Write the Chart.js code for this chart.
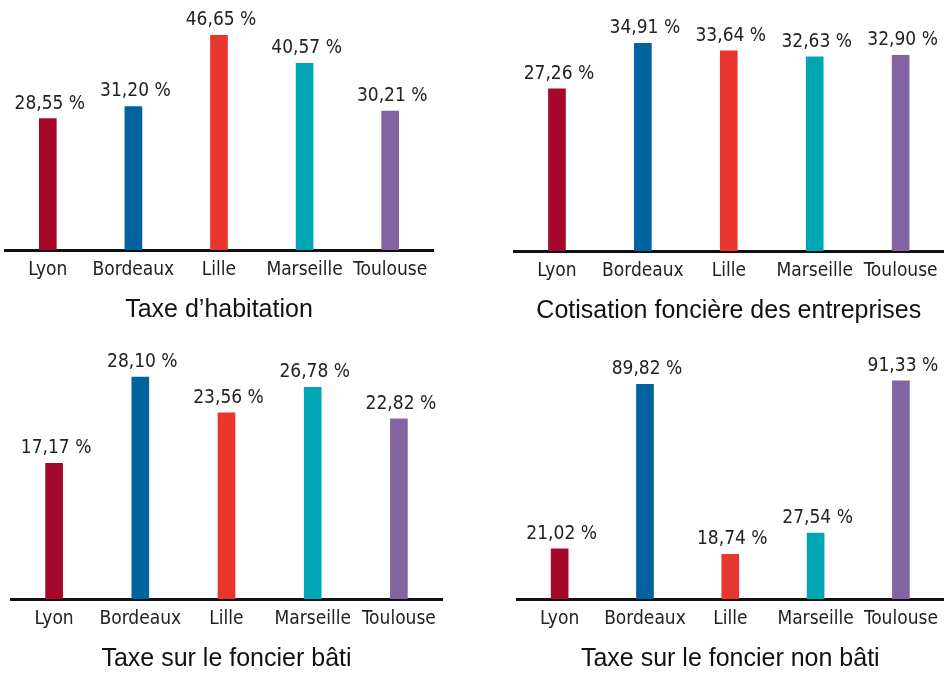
<!DOCTYPE html>
<html>
<head>
<meta charset="utf-8">
<script src="https://cdn.jsdelivr.net/npm/chart.js@4"></script>
<style>
  body { margin: 0; background: #fff; }
  #wrap { position: relative; width: 949px; height: 673px; overflow: hidden; }
  canvas { position: absolute; }
</style>
</head>
<body>
<div id="wrap">
  <canvas id="c1" width="474" height="335" style="left:0;top:0"></canvas>
  <canvas id="c2" width="475" height="335" style="left:474px;top:0"></canvas>
  <canvas id="c3" width="474" height="335" style="left:0;top:338px"></canvas>
  <canvas id="c4" width="475" height="335" style="left:474px;top:338px"></canvas>
</div>
<script>
const cities = ["Lyon", "Bordeaux", "Lille", "Marseille", "Toulouse"];
const cityColors = ["#a5082a", "#00629e", "#e6362e", "#00a6b4", "#8164a1"];

const habitation = [28.55, 31.20, 46.65, 40.57, 30.21];
const cfe = [27.26, 34.91, 33.64, 32.63, 32.90];
const foncierBati = [17.17, 28.10, 23.56, 26.78, 22.82];
const foncierNonBati = [21.02, 89.82, 18.74, 27.54, 91.33];

const titles = [
  "Taxe d’habitation",
  "Cotisation foncière des entreprises",
  "Taxe sur le foncier bâti",
  "Taxe sur le foncier non bâti",
];

const narrow = '"DejaVu Sans Condensed", "Liberation Sans Narrow", sans-serif';

function formatPct(v) {
  return v.toFixed(2).replace(".", ",") + " %";
}

// labels au-dessus des barres
const valueLabels = {
  id: "valueLabels",
  afterDatasetsDraw(chart) {
    const ctx = chart.ctx;
    const values = chart.data.datasets[0].data;
    const meta = chart.getDatasetMeta(0);
    ctx.save();
    ctx.font = "19px " + narrow;
    ctx.fillStyle = "#222";
    ctx.textAlign = "center";
    ctx.textBaseline = "alphabetic";
    meta.data.forEach((bar, i) => {
      ctx.fillText(formatPct(values[i]), bar.x + 2, bar.y - 10);
    });
    ctx.restore();
  },
};

function makeChart(id, values, title, yMax, padding) {
  const ctx = document.getElementById(id).getContext("2d");
  return new Chart(ctx, {
    type: "bar",
    data: {
      labels: cities,
      datasets: [
        {
          data: values,
          backgroundColor: cityColors,
          borderWidth: 0,
          barThickness: 17,
        },
      ],
    },
    options: {
      responsive: false,
      animation: false,
      devicePixelRatio: 1,
      layout: { padding },
      plugins: {
        legend: { display: false },
        tooltip: { enabled: false },
        title: {
          display: true,
          text: title,
          position: "bottom",
          fullSize: false,
          color: "#111",
          font: { family: '"Liberation Sans", Arial, sans-serif', size: 25, weight: "normal", lineHeight: 1 },
          padding: { top: 12, bottom: 0 },
        },
      },
      scales: {
        x: {
          grid: { display: false, drawTicks: false },
          border: { display: true, color: "#111", width: 3 },
          ticks: {
            color: "#222",
            padding: 11,
            maxRotation: 0,
            minRotation: 0,
            autoSkip: false,
            font: { family: narrow, size: 19, lineHeight: 1 },
          },
          afterFit: (scale) => {
            scale.height = 36;
          },
        },
        y: {
          display: false,
          min: 0,
          max: yMax,
        },
      },
    },
    plugins: [valueLabels],
  });
}

makeChart("c1", habitation, titles[0], 50, { left: 5, right: 41, top: 20, bottom: 12 });
makeChart("c2", cfe, titles[1], 40, { left: 40, right: 4, top: 13, bottom: 11 });
makeChart("c3", foncierBati, titles[2], 30, { left: 11, right: 32, top: 24, bottom: 1 });
makeChart("c4", foncierNonBati, titles[3], 100, { left: 43, right: 1, top: 22, bottom: 1 });
</script>
</body>
</html>
